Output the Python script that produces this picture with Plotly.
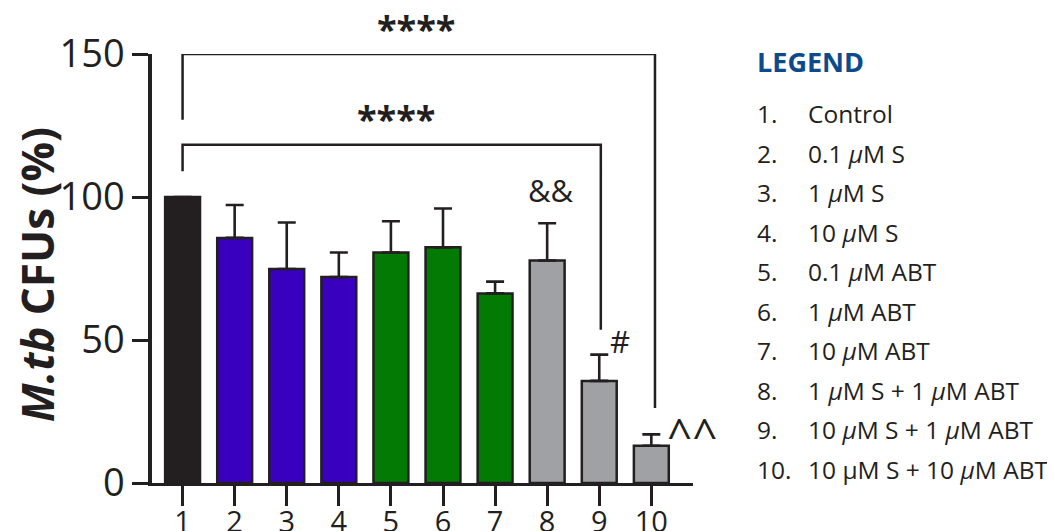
import plotly.graph_objects as go

# ---------------- data ----------------
groups = [1, 2, 3, 4, 5, 6, 7, 8, 9, 10]
cfu_pct = [100, 85.7, 74.8, 72.0, 80.6, 82.4, 66.3, 77.8, 35.7, 13.0]
cfu_err = [0, 11.5, 16.3, 8.6, 10.9, 13.6, 4.1, 13.0, 9.2, 4.0]
bar_colors = ["#231f20", "#3a00c0", "#3a00c0", "#3a00c0",
              "#037a03", "#037a03", "#037a03",
              "#a0a1a5", "#a0a1a5", "#a0a1a5"]

legend_labels = [
    "Control",
    "0.1 <i>µ</i>M S",
    "1 <i>µ</i>M S",
    "10 <i>µ</i>M S",
    "0.1 <i>µ</i>M ABT",
    "1 <i>µ</i>M ABT",
    "10 <i>µ</i>M ABT",
    "1 <i>µ</i>M S + 1 <i>µ</i>M ABT",
    "10 <i>µ</i>M S + 1 <i>µ</i>M ABT",
    "10 µM S + 10 <i>µ</i>M ABT",
]

# significance brackets
br_left = [1, 1]
br_right = [10.07, 9.03]
br_top = [150, 118.3]
br_left_end = [127, 109]
br_right_end = [26.2, 53.6]
br_labels = ["****", "****"]
br_label_x = [5.49, 5.1]
br_label_y = [159.0, 127.3]

# other marks
sig_text = ["&&", "#", "^^"]
sig_x = [8.08, 9.4, 10.78]
sig_y = [102.6, 49.5, 17.3]
sig_size = [31, 31, 44]

# ---------------- figure ----------------
INK = "#231f20"
FONT = "Open Sans"
YMAX = 150

OFF = 8  # page body margin
W, H = 1055 - OFF, 531 - OFF
L = 151.7 - OFF
T = 54.3 - OFF
R = W - (693.3 - OFF)
B = H - (483.3 - OFF)
pw, ph = W - L - R, H - T - B


def px_x(p):
    return (p - OFF - L) / pw


def px_y(p):
    return (H - B - (p - OFF)) / ph


fig = go.Figure()
fig.add_trace(go.Bar(
    x=groups, y=cfu_pct, width=0.67,
    marker=dict(color=bar_colors, line=dict(color=INK, width=2.5)),
    error_y=dict(type="data", array=cfu_err, arrayminus=[0] * len(cfu_err),
                 symmetric=False, thickness=2.6, width=9, color=INK),
    cliponaxis=False, showlegend=False, hoverinfo="skip",
))

for i in range(len(br_left)):
    fig.add_trace(go.Scatter(
        x=[br_left[i], br_left[i], br_right[i], br_right[i]],
        y=[br_left_end[i], br_top[i], br_top[i], br_right_end[i]],
        mode="lines", line=dict(color=INK, width=2.5),
        cliponaxis=False, showlegend=False, hoverinfo="skip",
    ))
    fig.add_annotation(x=br_label_x[i], y=br_label_y[i] / YMAX,
                       text=f"<b>{br_labels[i]}</b>",
                       showarrow=False, xref="x", yref="paper",
                       xanchor="center", yanchor="middle",
                       font=dict(family=FONT, size=36, color=INK))

for t, xx, yy, sz in zip(sig_text, sig_x, sig_y, sig_size):
    fig.add_annotation(x=xx, y=yy / YMAX, text=t, showarrow=False, xref="x", yref="paper",
                       xanchor="center", yanchor="middle",
                       font=dict(family=FONT, size=sz, color=INK))

# y title
fig.add_annotation(x=px_x(36), y=px_y(275), xref="paper", yref="paper",
                   text="<b><i>M.tb</i> CFUs (%)</b>", textangle=-90,
                   xanchor="center", yanchor="middle",
                   showarrow=False, font=dict(family=FONT, size=44, color=INK))

# legend block
fig.add_annotation(x=px_x(755), y=px_y(62), xref="paper", yref="paper",
                   text="<b>LEGEND</b>", showarrow=False,
                   xanchor="left", yanchor="middle",
                   font=dict(family=FONT, size=27, color="#0d4a8c"))
leg_y0, leg_dy = 114, 39.5
for i, lab in enumerate(legend_labels):
    yy = px_y(leg_y0 + i * leg_dy)
    fig.add_annotation(x=px_x(755), y=yy, xref="paper", yref="paper",
                       text=f"{groups[i]}.", showarrow=False,
                       xanchor="left", yanchor="middle",
                       font=dict(family=FONT, size=24.5, color=INK))
    fig.add_annotation(x=px_x(806), y=yy, xref="paper", yref="paper",
                       text=lab, showarrow=False,
                       xanchor="left", yanchor="middle",
                       font=dict(family=FONT, size=24.5, color=INK))

fig.update_layout(
    width=W, height=H,
    margin=dict(l=L, r=R, t=T, b=B, autoexpand=False),
    paper_bgcolor="white", plot_bgcolor="white",
    xaxis=dict(range=[0.413, 10.80], tickvals=groups, ticktext=[str(g) for g in groups],
               showline=True, linecolor=INK, linewidth=3,
               ticks="outside", ticklen=20, tickwidth=3, tickcolor=INK,
               ticklabelstandoff=-9,
               showgrid=False, zeroline=False,
               tickfont=dict(family=FONT, size=29, color=INK)),
    yaxis=dict(range=[0, YMAX], tickvals=[0, 50, 100, 150],
               showline=True, linecolor=INK, linewidth=3.5,
               ticks="outside", ticklen=16, tickwidth=3, tickcolor=INK,
               showgrid=False, zeroline=False,
               tickfont=dict(family=FONT, size=38, color=INK)),
)

fig.write_html("out.html")
